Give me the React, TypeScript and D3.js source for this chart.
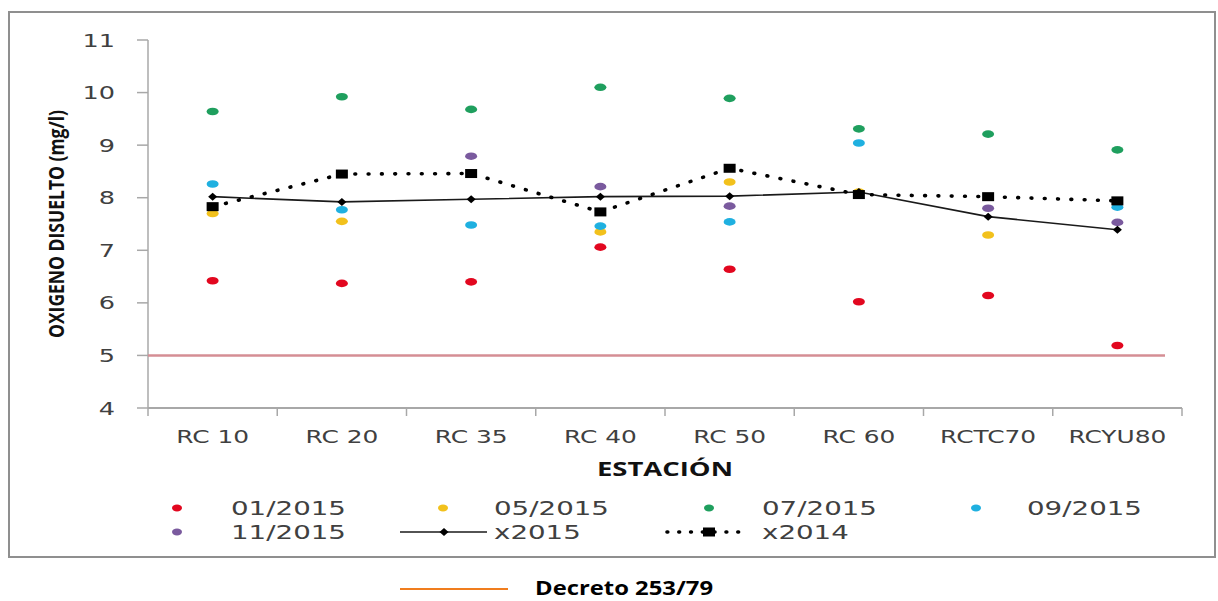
import React from "react";
import * as d3 from "d3";

const categories = ["RC 10", "RC 20", "RC 35", "RC 40", "RC 50", "RC 60", "RCTC70", "RCYU80"];
const yTicks = [4, 5, 6, 7, 8, 9, 10, 11];

const s012015 = [6.42, 6.37, 6.4, 7.06, 6.64, 6.02, 6.14, 5.19];
const s052015 = [7.7, 7.55, null, 7.35, 8.3, 8.11, 7.29, null];
const s072015 = [9.64, 9.92, 9.68, 10.1, 9.89, 9.31, 9.21, 8.91];
const s092015 = [8.26, 7.77, 7.48, 7.46, 7.54, 9.04, null, 7.82];
const s112015 = [null, null, 8.79, 8.21, 7.84, null, 7.8, 7.53];
const x2015 = [8.02, 7.92, 7.97, 8.02, 8.03, 8.11, 7.64, 7.39];
const x2014 = [7.83, 8.45, 8.46, 7.73, 8.56, 8.06, 8.02, 7.94];
const decretoLimit = 5;

const dotSeries = [
  { name: "01/2015", values: s012015, color: "#e2071f" },
  { name: "05/2015", values: s052015, color: "#f2c11c" },
  { name: "07/2015", values: s072015, color: "#1f9f5e" },
  { name: "09/2015", values: s092015, color: "#1fb0e0" },
  { name: "11/2015", values: s112015, color: "#7a5a9e" },
];

const TXT = "#404040";
const SX = 1.42;

export default function App() {
  const x = d3.scaleBand<string>().domain(categories).range([148, 1182]).padding(0);
  const y = d3.scaleLinear().domain([4, 11]).range([408, 40]);
  const cx = (c: string) => (x(c) as number) + x.bandwidth() / 2;

  const line = d3
    .line<number>()
    .x((_, i) => cx(categories[i]))
    .y((v) => y(v));

  const boundaries = categories.map((c) => x(c) as number).concat([1182]);

  const diamond = (px: number, py: number, w = 9, h = 8) =>
    `M${px - w / 2},${py} L${px},${py - h / 2} L${px + w / 2},${py} L${px},${py + h / 2} Z`;

  const legendPos = [
    { mx: 177, tx: 231, y: 508 },
    { mx: 443, tx: 494, y: 508 },
    { mx: 709, tx: 762, y: 508 },
    { mx: 976, tx: 1027, y: 508 },
    { mx: 177, tx: 231, y: 532 },
  ];

  return (
    <svg
      width={1218}
      height={601}
      style={{ position: "absolute", left: 0, top: 0, background: "#fff" }}
      fontFamily="'DejaVu Sans', Verdana, sans-serif"
    >
      <rect x={0} y={0} width={1218} height={601} fill="#fff" />
      <rect x={9} y={12} width={1206} height={545} fill="#fff" stroke="#8f8f8f" strokeWidth={2} />

      {/* y axis */}
      <line x1={148} x2={148} y1={y(11)} y2={y(4)} stroke="#a8a8a8" strokeWidth={1.5} />
      {yTicks.map((t) => (
        <g key={t}>
          <line x1={137} x2={148} y1={y(t)} y2={y(t)} stroke="#a8a8a8" strokeWidth={1.5} />
          <text
            transform={`translate(115,${y(t)}) scale(${SX},1)`}
            textAnchor="end"
            dominantBaseline="central"
            fontSize={18}
            fill={TXT}
          >
            {t}
          </text>
        </g>
      ))}

      {/* x axis */}
      <line x1={148} x2={1182} y1={y(4)} y2={y(4)} stroke="#a8a8a8" strokeWidth={2} />
      {boundaries.map((b, i) => (
        <line key={i} x1={b} x2={b} y1={y(4)} y2={y(4) + 8} stroke="#a8a8a8" strokeWidth={1.5} />
      ))}
      {categories.map((c) => (
        <text
          key={c}
          transform={`translate(${cx(c)},437) scale(1.38,1)`}
          textAnchor="middle"
          dominantBaseline="central"
          fontSize={18}
          fill={TXT}
        >
          {c}
        </text>
      ))}

      {/* limit line */}
      <line x1={148} x2={1165} y1={y(decretoLimit)} y2={y(decretoLimit)} stroke="#d58e94" strokeWidth={2.5} />

      {/* dot series */}
      {dotSeries.map((s) =>
        s.values.map((v, i) =>
          v == null ? null : (
            <ellipse key={s.name + i} cx={cx(categories[i])} cy={y(v)} rx={6} ry={3.8} fill={s.color} />
          )
        )
      )}

      {/* x2015 */}
      <path d={line(x2015) || ""} fill="none" stroke="#1a1a1a" strokeWidth={1.6} />
      {x2015.map((v, i) => (
        <path key={"d" + i} d={diamond(cx(categories[i]), y(v))} fill="#000" />
      ))}

      {/* x2014 */}
      <path
        d={line(x2014) || ""}
        fill="none"
        stroke="#000"
        strokeWidth={3.6}
        strokeDasharray="0.8 12.5"
        strokeLinecap="round"
      />
      {x2014.map((v, i) => (
        <rect key={"s" + i} x={cx(categories[i]) - 6} y={y(v) - 4.5} width={12} height={9} fill="#000" />
      ))}

      {/* axis titles */}
      <text
        transform="translate(56,224) scale(1.35,1) rotate(-90)"
        textAnchor="middle"
        dominantBaseline="central"
        fontFamily="'Open Sans', sans-serif"
        fontWeight="bold"
        fontSize={16}
        textLength={228}
        lengthAdjust="spacingAndGlyphs"
        fill="#111"
      >
        OXIGENO DISUELTO (mg/l)
      </text>
      <text
        x={665}
        y={468}
        textAnchor="middle"
        dominantBaseline="central"
        fontFamily="'Open Sans', sans-serif"
        fontWeight="bold"
        fontSize={20}
        textLength={136}
        lengthAdjust="spacingAndGlyphs"
        fill="#111"
      >
        ESTACIÓN
      </text>

      {/* legend */}
      {dotSeries.map((s, i) => (
        <g key={"lg" + s.name}>
          <ellipse cx={legendPos[i].mx} cy={legendPos[i].y} rx={5} ry={3.4} fill={s.color} />
          <text
            transform={`translate(${legendPos[i].tx},${legendPos[i].y}) scale(${SX},1)`}
            dominantBaseline="central"
            fontSize={19.5}
            fill={TXT}
          >
            {s.name}
          </text>
        </g>
      ))}
      <line x1={400} x2={487} y1={532} y2={532} stroke="#1a1a1a" strokeWidth={1.6} />
      <path d={diamond(444, 532)} fill="#000" />
      <text transform={`translate(494,532) scale(${SX},1)`} dominantBaseline="central" fontSize={19.5} fill={TXT}>
        x2015
      </text>
      <line
        x1={667}
        x2={748}
        y1={532}
        y2={532}
        stroke="#000"
        strokeWidth={3.6}
        strokeDasharray="0.8 11"
        strokeLinecap="round"
      />
      <rect x={703} y={527.5} width={12} height={9} fill="#000" />
      <text transform={`translate(762,532) scale(${SX},1)`} dominantBaseline="central" fontSize={19.5} fill={TXT}>
        x2014
      </text>

      {/* decreto legend */}
      <line x1={400} x2={508} y1={589} y2={589} stroke="#f07d1e" strokeWidth={2} />
      <text
        x={535}
        y={588}
        dominantBaseline="central"
        fontFamily="'Open Sans', sans-serif"
        fontWeight="bold"
        fontSize={19}
        textLength={178}
        lengthAdjust="spacingAndGlyphs"
        fill="#000"
      >
        Decreto 253/79
      </text>
    </svg>
  );
}
